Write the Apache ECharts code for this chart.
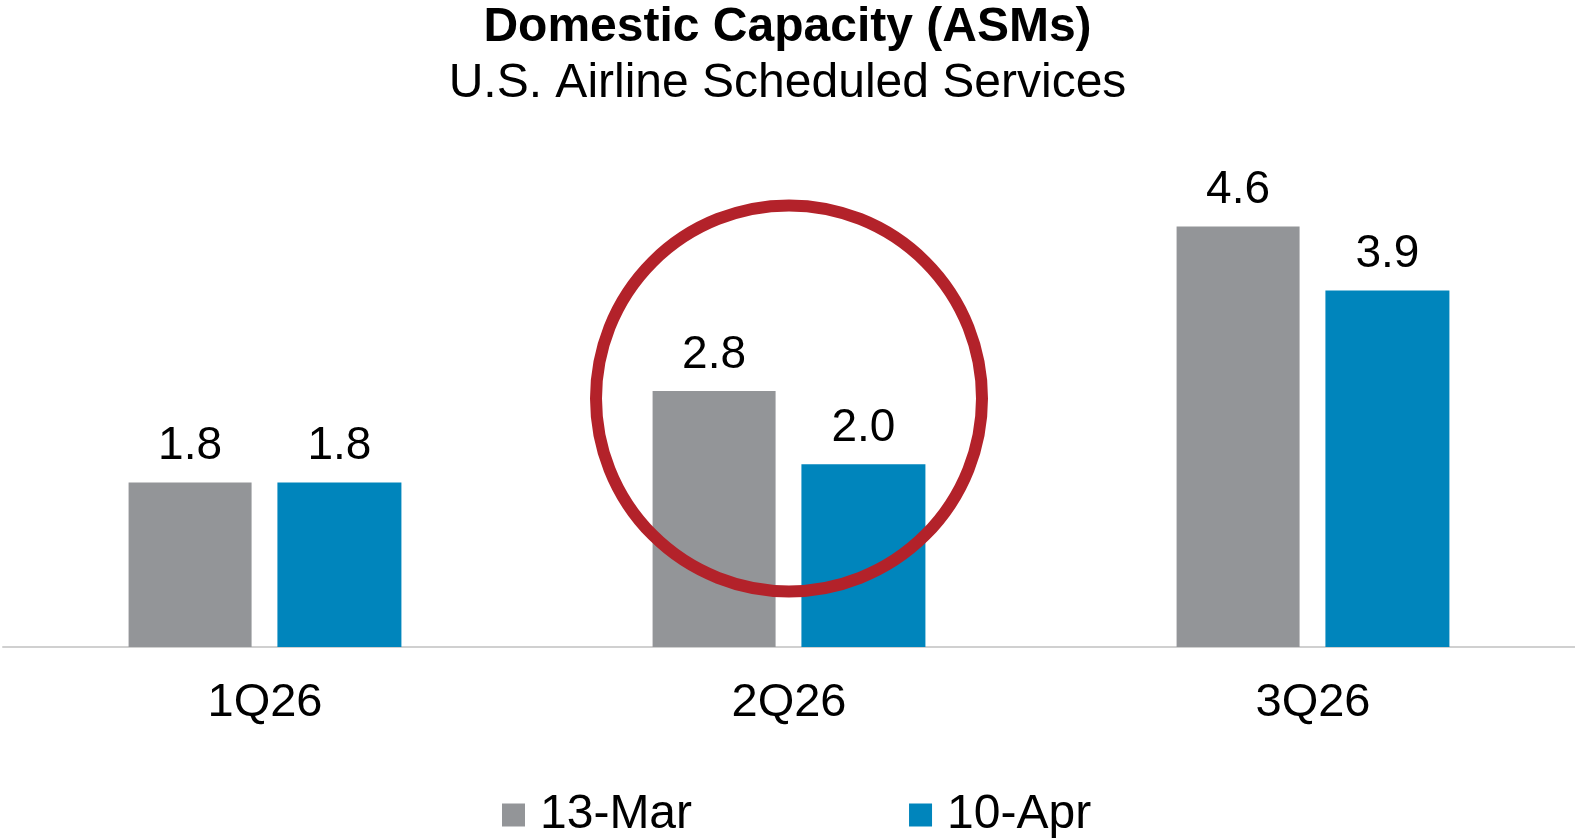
<!DOCTYPE html>
<html>
<head>
<meta charset="utf-8">
<script src="https://cdn.jsdelivr.net/npm/echarts@6/dist/echarts.min.js"></script>
<style>
  html, body { margin: 0; padding: 0; background: #ffffff; }
  #chart { width: 1575px; height: 840px; }
</style>
</head>
<body>
<div id="chart"></div>
<script>
// Quarterly domestic ASM capacity change by schedule snapshot
const quarters = ['1Q26', '2Q26', '3Q26'];
const seriesNames = ['13-Mar', '10-Apr'];
const mar13 = [1.8, 2.8, 4.6];
const apr10 = [1.8, 2.0, 3.9];

// Annotation ring around the highlighted quarter
const highlightQuarter = '2Q26';
const highlightCenterValue = 2.72;

const FONT = '"Liberation Sans", Arial, Helvetica, sans-serif';
const GREY = '#939598';
const BLUE = '#0085BC';
const RING = '#B3222A';

const chart = echarts.init(document.getElementById('chart'), null, { renderer: 'canvas' });

const labelCfg = {
  show: true,
  position: 'top',
  distance: 13,
  color: '#000000',
  fontFamily: FONT,
  fontSize: 46,
  lineHeight: 46,
  formatter: p => Number(p.value).toFixed(1)
};

chart.setOption({
  animation: false,
  backgroundColor: '#ffffff',
  textStyle: { fontFamily: FONT },
  title: [
    {
      text: 'Domestic Capacity (ASMs)',
      left: 'center',
      top: 4,
      padding: 0,
      textStyle: { fontFamily: FONT, fontSize: 48, lineHeight: 48, fontWeight: 'bold', color: '#000000' }
    },
    {
      text: 'U.S. Airline Scheduled Services',
      left: 'center',
      top: 60,
      padding: 0,
      textStyle: { fontFamily: FONT, fontSize: 48, lineHeight: 48, fontWeight: 'normal', color: '#000000' }
    }
  ],
  legend: {
    data: seriesNames,
    left: 502,
    top: 791,
    padding: 0,
    itemWidth: 23,
    itemHeight: 23,
    itemGap: 217,
    icon: 'rect',
    textStyle: { fontFamily: FONT, fontSize: 48, lineHeight: 48, color: '#000000', padding: [0, 0, 0, 10] }
  },
  grid: { left: 3, right: 0, top: 190, bottom: 193, containLabel: false },
  xAxis: {
    type: 'category',
    data: quarters,
    axisLine: { show: true, lineStyle: { color: '#D0D0D0', width: 2 } },
    axisTick: { show: false },
    axisLabel: { margin: 33, color: '#000000', fontFamily: FONT, fontSize: 47, lineHeight: 47 },
    splitLine: { show: false }
  },
  yAxis: {
    type: 'value',
    min: 0,
    max: 5,
    show: false,
    splitLine: { show: false }
  },
  series: [
    {
      name: seriesNames[0],
      type: 'bar',
      data: mar13,
      barWidth: 123,
      barGap: '21%',
      itemStyle: { color: GREY },
      label: labelCfg
    },
    {
      name: seriesNames[1],
      type: 'bar',
      data: apr10,
      barWidth: 124,
      itemStyle: { color: BLUE },
      label: labelCfg
    }
  ]
});

// Place the ring on the axes once the layout exists
const center = chart.convertToPixel({ gridIndex: 0 }, [highlightQuarter, highlightCenterValue]);
chart.setOption({
  graphic: [
    {
      type: 'circle',
      z: 100,
      shape: { cx: center[0], cy: center[1], r: 193 },
      style: { fill: 'none', stroke: RING, lineWidth: 12 }
    }
  ]
});
</script>
</body>
</html>
